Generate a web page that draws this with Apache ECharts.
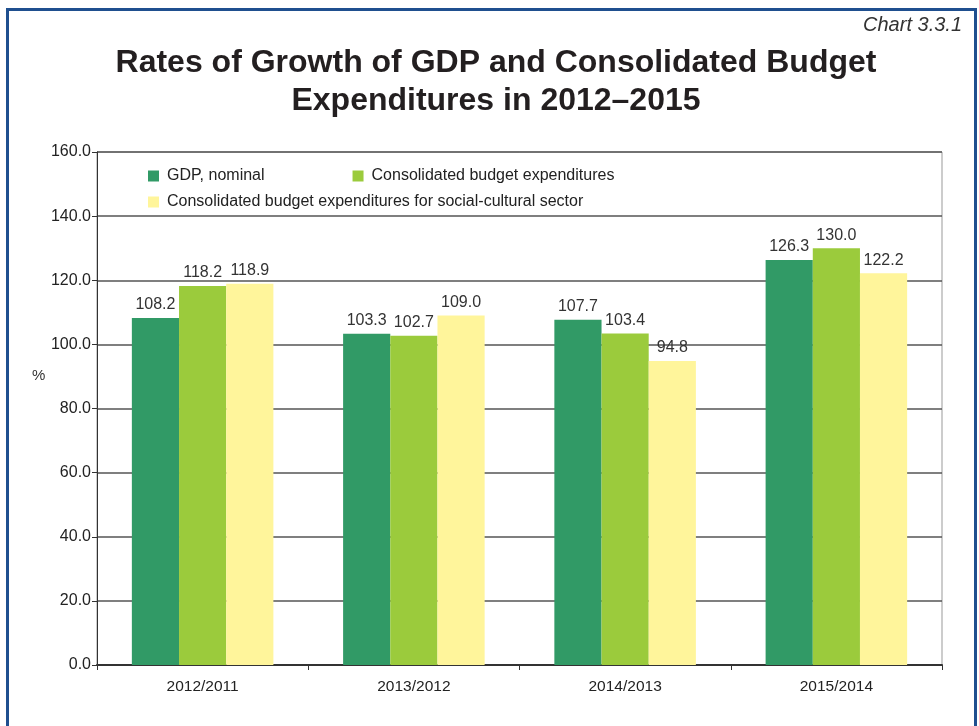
<!DOCTYPE html>
<html>
<head>
<meta charset="utf-8">
<script src="https://cdn.jsdelivr.net/npm/echarts@6/dist/echarts.min.js"></script>
<style>
  html, body { margin: 0; padding: 0; background: #fff; }
  #chart { width: 979px; height: 726px; }
</style>
</head>
<body>
<div id="chart"></div>
<script>
const categories = ['2012/2011', '2013/2012', '2014/2013', '2015/2014'];
const gdpNominal = [108.2, 103.3, 107.7, 126.3];
const budgetExpenditures = [118.2, 102.7, 103.4, 130.0];
const socialCulturalExpenditures = [118.9, 109.0, 94.8, 122.2];
const seriesNames = [
  'GDP, nominal',
  'Consolidated budget expenditures',
  'Consolidated budget expenditures for social-cultural sector'
];
const seriesColors = ['#319a66', '#9bcb3c', '#fff59b'];

const FONT = "'Liberation Sans', Arial, sans-serif";
const chart = echarts.init(document.getElementById('chart'), null, { renderer: 'canvas' });

function barSeries(name, data, color) {
  return {
    name: name,
    type: 'bar',
    data: data,
    barGap: '0%',
    barCategoryGap: '33%',
    itemStyle: { color: color },
    label: {
      show: true,
      position: 'top',
      distance: 5,
      color: '#333',
      fontSize: 16,
      fontFamily: FONT,
      formatter: p => p.value.toFixed(1)
    }
  };
}

chart.setOption({
  animation: false,
  backgroundColor: '#fff',
  title: {
    text: 'Rates of Growth of GDP and Consolidated Budget\nExpenditures in 2012\u20132015',
    left: 491, top: 39,
    textAlign: 'center',
    textStyle: {
      fontSize: 32,
      fontWeight: 'bold',
      fontFamily: FONT,
      color: '#231f20',
      lineHeight: 38
    }
  },
  graphic: [
    {
      type: 'rect',
      shape: { x: 7.5, y: 9.5, width: 968, height: 730 },
      style: { fill: 'none', stroke: '#1f4f8f', lineWidth: 3 },
      z: 100
    },
    {
      type: 'text',
      right: 17, top: 15,
      style: { text: 'Chart 3.3.1', font: "italic 20px 'Liberation Sans', Arial, sans-serif", fill: '#333' }
    },
    {
      type: 'text',
      left: 32, top: 368,
      style: { text: '%', font: "15px 'Liberation Sans', Arial, sans-serif", fill: '#333' }
    }
  ],
  legend: [
    {
      data: [seriesNames[0], seriesNames[1]],
      left: 143, top: 163,
      itemWidth: 11, itemHeight: 11,
      itemGap: 88,
      icon: 'rect',
      textStyle: { fontSize: 16, fontFamily: FONT, color: '#222', padding: [0, 0, 0, 3] }
    },
    {
      data: [seriesNames[2]],
      left: 143, top: 189,
      itemWidth: 11, itemHeight: 11,
      icon: 'rect',
      textStyle: { fontSize: 16, fontFamily: FONT, color: '#222', padding: [0, 0, 0, 3] }
    }
  ],
  grid: { left: 97, right: 37, top: 152, bottom: 61, show: true, borderColor: '#999', borderWidth: 1 },
  xAxis: {
    type: 'category',
    data: categories,
    axisLine: { lineStyle: { color: '#333', width: 2 } },
    axisTick: { show: true, length: 5, lineStyle: { color: '#333' } },
    axisLabel: { fontSize: 15.5, fontFamily: FONT, color: '#222', margin: 14 }
  },
  yAxis: {
    type: 'value',
    min: 0, max: 160, interval: 20,
    axisLine: { show: true, lineStyle: { color: '#333' } },
    axisTick: { show: true, length: 5, lineStyle: { color: '#333' } },
    axisLabel: { fontSize: 16, fontFamily: FONT, color: '#222', margin: 6, formatter: v => v.toFixed(1) },
    splitLine: { lineStyle: { color: '#555', width: 1.5 } }
  },
  series: [
    barSeries(seriesNames[0], gdpNominal, seriesColors[0]),
    barSeries(seriesNames[1], budgetExpenditures, seriesColors[1]),
    barSeries(seriesNames[2], socialCulturalExpenditures, seriesColors[2])
  ]
});
</script>
</body>
</html>
